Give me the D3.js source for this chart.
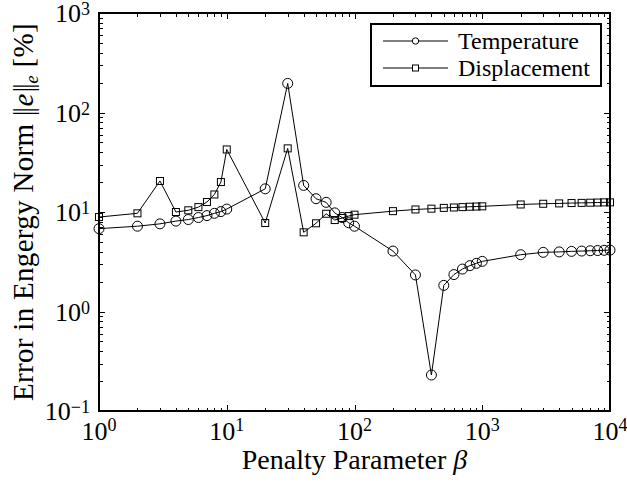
<!DOCTYPE html>
<html><head><meta charset="utf-8">
<script src="https://cdn.jsdelivr.net/npm/d3@7"></script>
<style>
body{margin:0;background:#fff;}
svg text{font-family:"Liberation Serif","Times New Roman",serif;fill:#000;}
</style></head>
<body><svg id="c" width="627" height="483"></svg>
<script>
const betaValues = [1,2,3,4,5,6,7,8,9,10,20,30,40,50,60,70,80,90,100,200,300,400,500,600,700,800,900,1000,2000,3000,4000,5000,6000,7000,8000,9000,10000];
const temperature = [6.8,7.2,7.6,8.1,8.4,8.8,9.2,9.7,10.1,10.7,17.1,196,18.5,13.6,12.5,9.8,8.8,7.8,7.2,4.05,2.33,0.23,1.83,2.35,2.67,2.89,3.05,3.19,3.72,3.93,3.97,4.02,4.05,4.08,4.1,4.12,4.14];
const displacement = [8.9,9.7,20.5,10.0,10.4,11.2,12.6,15.0,20.0,42.5,7.75,43.6,6.25,7.7,9.6,8.3,8.7,9.1,9.4,10.2,10.6,10.8,11.0,11.1,11.2,11.3,11.35,11.4,11.9,12.1,12.2,12.3,12.35,12.4,12.45,12.5,12.5];
const xTickValues = [1,10,100,1000,10000];
const xTickExps = ["0","1","2","3","4"];
const yTickValues = [0.1,1,10,100,1000];
const yTickExps = ["\u22121","0","1","2","3"];
const seriesNames = ["Temperature","Displacement"];
const xTitle = "Penalty Parameter ";
const yTitle = "Error in Engergy Norm ";

const L=99,R=610,T=13,B=411;
const svg=d3.select("#c");
const x=d3.scaleLog().domain([1,1e4]).range([L,R]);
const y=d3.scaleLog().domain([0.1,1000]).range([B,T]);

function minors(lo,hi){const a=[];for(let e=Math.log10(lo);e<Math.log10(hi);e++){for(let k=2;k<=9;k++)a.push(k*Math.pow(10,e));}return a;}
const xMin=minors(1,1e4), yMin=minors(0.1,1000);

svg.append("g").attr("transform",`translate(0,${B})`).call(d3.axisBottom(x).tickValues(xTickValues).tickSize(-6).tickFormat(""));
svg.append("g").attr("transform",`translate(0,${B})`).call(d3.axisBottom(x).tickValues(xMin).tickSize(-3.5).tickFormat(""));
svg.append("g").attr("transform",`translate(0,${T})`).call(d3.axisTop(x).tickValues(xTickValues).tickSize(-6).tickFormat(""));
svg.append("g").attr("transform",`translate(0,${T})`).call(d3.axisTop(x).tickValues(xMin).tickSize(-3.5).tickFormat(""));
svg.append("g").attr("transform",`translate(${L},0)`).call(d3.axisLeft(y).tickValues(yTickValues).tickSize(-6).tickFormat(""));
svg.append("g").attr("transform",`translate(${L},0)`).call(d3.axisLeft(y).tickValues(yMin).tickSize(-3.5).tickFormat(""));
svg.append("g").attr("transform",`translate(${R},0)`).call(d3.axisRight(y).tickValues(yTickValues).tickSize(-6).tickFormat(""));
svg.append("g").attr("transform",`translate(${R},0)`).call(d3.axisRight(y).tickValues(yMin).tickSize(-3.5).tickFormat(""));
svg.selectAll(".domain").remove();
svg.selectAll(".tick line").attr("stroke","#000").attr("stroke-width",1).attr("shape-rendering","crispEdges");
svg.append("rect").attr("x",L).attr("y",T).attr("width",R-L).attr("height",B-T)
  .attr("fill","none").attr("stroke","#000").attr("stroke-width",1.2).attr("shape-rendering","crispEdges");

// tick labels
const fs=26, sfs=18;
xTickValues.forEach((v,i)=>{
  const t=svg.append("text").attr("x",x(v)).attr("y",440).attr("text-anchor","middle").attr("font-size",fs);
  t.append("tspan").text("10");
  t.append("tspan").attr("dy",-9).attr("font-size",sfs).text(xTickExps[i]);
});
yTickValues.forEach((v,i)=>{
  const t=svg.append("text").attr("x",90).attr("y",y(v)+9).attr("text-anchor","end").attr("font-size",fs);
  t.append("tspan").text("10");
  t.append("tspan").attr("dy",-7).attr("font-size",sfs).text(yTickExps[i]);
});
// x title
const tfs=28;
const xt=svg.append("text").attr("x",(L+R)/2).attr("y",469).attr("text-anchor","middle").attr("font-size",tfs);
xt.append("tspan").text(xTitle);
xt.append("tspan").attr("font-style","italic").text("\u03B2");
// y title
const yt=svg.append("text").attr("transform",`translate(33,${(T+B)/2}) rotate(-90)`).attr("text-anchor","middle").attr("font-size",29).attr("letter-spacing",0.3);
yt.append("tspan").text(yTitle);
yt.append("tspan").attr("letter-spacing",-2.5).text("||");
yt.append("tspan").attr("dx",3).attr("font-style","italic").text("e");
yt.append("tspan").attr("dx",1).attr("letter-spacing",-2.5).text("||");
yt.append("tspan").attr("dx",2).attr("font-style","italic").attr("font-size",19).attr("dy",5).text("e");
yt.append("tspan").attr("dy",-5).text(" [%]");

// lines
const line=d3.line().x((d,i)=>x(betaValues[i])).y(d=>y(d));
const plot=svg.append("g");
plot.append("path").datum(temperature).attr("d",line).attr("fill","none").attr("stroke","#000").attr("stroke-width",1);
plot.append("path").datum(displacement).attr("d",line).attr("fill","none").attr("stroke","#000").attr("stroke-width",1);
plot.selectAll("circle.t").data(temperature).join("circle").attr("class","t")
  .attr("cx",(d,i)=>x(betaValues[i])).attr("cy",d=>y(d)).attr("r",5)
  .attr("fill","none").attr("stroke","#000").attr("stroke-width",1);
const s=7;
plot.selectAll("rect.d").data(displacement).join("rect").attr("class","d")
  .attr("x",(d,i)=>x(betaValues[i])-s/2).attr("y",d=>y(d)-s/2).attr("width",s).attr("height",s)
  .attr("fill","none").attr("stroke","#000").attr("stroke-width",1);

// legend
const lg=svg.append("g");
lg.append("rect").attr("x",371).attr("y",24).attr("width",230).attr("height",62)
  .attr("fill","#fff").attr("stroke","#000").attr("stroke-width",1.2).attr("shape-rendering","crispEdges");
const rows=[41,68];
rows.forEach((ry,i)=>{
  lg.append("line").attr("x1",383).attr("x2",448).attr("y1",ry).attr("y2",ry).attr("stroke","#000");
  if(i===0) lg.append("circle").attr("cx",415.5).attr("cy",ry).attr("r",3.2).attr("fill","#fff").attr("stroke","#000");
  else lg.append("rect").attr("x",412.5).attr("y",ry-3).attr("width",6).attr("height",6).attr("fill","#fff").attr("stroke","#000");
  lg.append("text").attr("x",458).attr("y",ry+8).attr("font-size",24).text(seriesNames[i]);
});
</script></body></html>
